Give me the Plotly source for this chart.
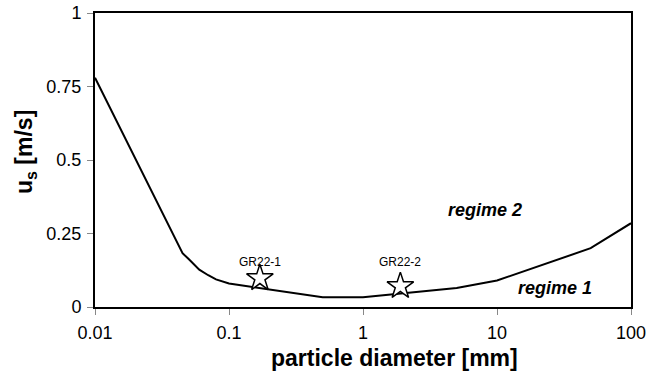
import math
import plotly.graph_objects as go

# curve data
diameter_mm = [0.01, 0.045, 0.05, 0.06, 0.07, 0.08, 0.1, 0.5, 1, 5, 10, 50, 100]
us_ms = [0.78, 0.183, 0.163, 0.127, 0.108, 0.094, 0.08, 0.033, 0.033, 0.065, 0.09, 0.2, 0.285]

# samples
sample_names = ["GR22-1", "GR22-2"]
sample_d = [0.17, 1.9]
sample_us = [0.098, 0.071]
sample_label_y = [0.153, 0.153]

# regime labels
regime_names = ["regime 2", "regime 1"]
regime_x = [8.1, 27.0]
regime_y = [0.33, 0.065]

x_ticks = [0.01, 0.1, 1, 10, 100]
x_ticktext = ["0.01", "0.1", "1", "10", "100"]
y_ticks = [0, 0.25, 0.5, 0.75, 1]
y_ticktext = ["0", "0.25", "0.5", "0.75", "1"]

FONT = "Liberation Sans, Arial, sans-serif"

fig = go.Figure()
fig.add_trace(go.Scatter(x=diameter_mm, y=us_ms, mode="lines",
                         line=dict(color="black", width=2), hoverinfo="skip",
                         showlegend=False))
fig.add_trace(go.Scatter(x=sample_d, y=sample_us, mode="markers",
                         marker=dict(symbol="star", size=20, color="white",
                                     line=dict(color="black", width=1.5)),
                         showlegend=False))

annotations = []
for name, xd, yl in zip(sample_names, sample_d, sample_label_y):
    annotations.append(dict(x=math.log10(xd), y=yl, xref="x", yref="y", text=name,
                            showarrow=False, font=dict(size=12, color="black", family=FONT),
                            xanchor="center", yanchor="middle"))
for name, xr, yr in zip(regime_names, regime_x, regime_y):
    annotations.append(dict(x=math.log10(xr), y=yr, xref="x", yref="y",
                            text="<b><i>" + name + "</i></b>", showarrow=False,
                            font=dict(size=18, color="black", family=FONT),
                            xanchor="center", yanchor="middle"))
annotations.append(dict(x=0.559, y=0, xref="paper", yref="paper", yshift=-51,
                        text="<b>particle diameter [mm]</b>", showarrow=False,
                        font=dict(size=23, color="black", family=FONT),
                        xanchor="center", yanchor="middle"))
annotations.append(dict(x=0, y=0.527, xref="paper", yref="paper", xshift=-70,
                        text="<b>u<sub>s</sub> [m/s]</b>", textangle=-90, showarrow=False,
                        font=dict(size=23, color="black", family=FONT),
                        xanchor="center", yanchor="middle"))

fig.update_layout(
    width=647, height=378,
    margin=dict(l=95, r=16, t=13, b=71),
    paper_bgcolor="white", plot_bgcolor="white",
    font=dict(family=FONT, color="black"),
    annotations=annotations,
)
fig.update_xaxes(type="log", range=[-2, 2], tickvals=x_ticks, ticktext=x_ticktext,
                 ticks="outside", ticklen=6, tickcolor="#888888", tickwidth=1,
                 showline=True, linecolor="black", linewidth=2, mirror=True,
                 showgrid=False, zeroline=False, automargin=False,
                 ticklabelstandoff=2,
                 tickfont=dict(size=18, color="black"))
fig.update_yaxes(range=[0, 1], tickvals=y_ticks, ticktext=y_ticktext,
                 ticks="outside", ticklen=6, tickcolor="#888888", tickwidth=1,
                 showline=True, linecolor="black", linewidth=2, mirror=True,
                 showgrid=False, zeroline=False, automargin=False,
                 ticklabelstandoff=2,
                 tickfont=dict(size=18, color="black"))

fig.write_html("out.html")
